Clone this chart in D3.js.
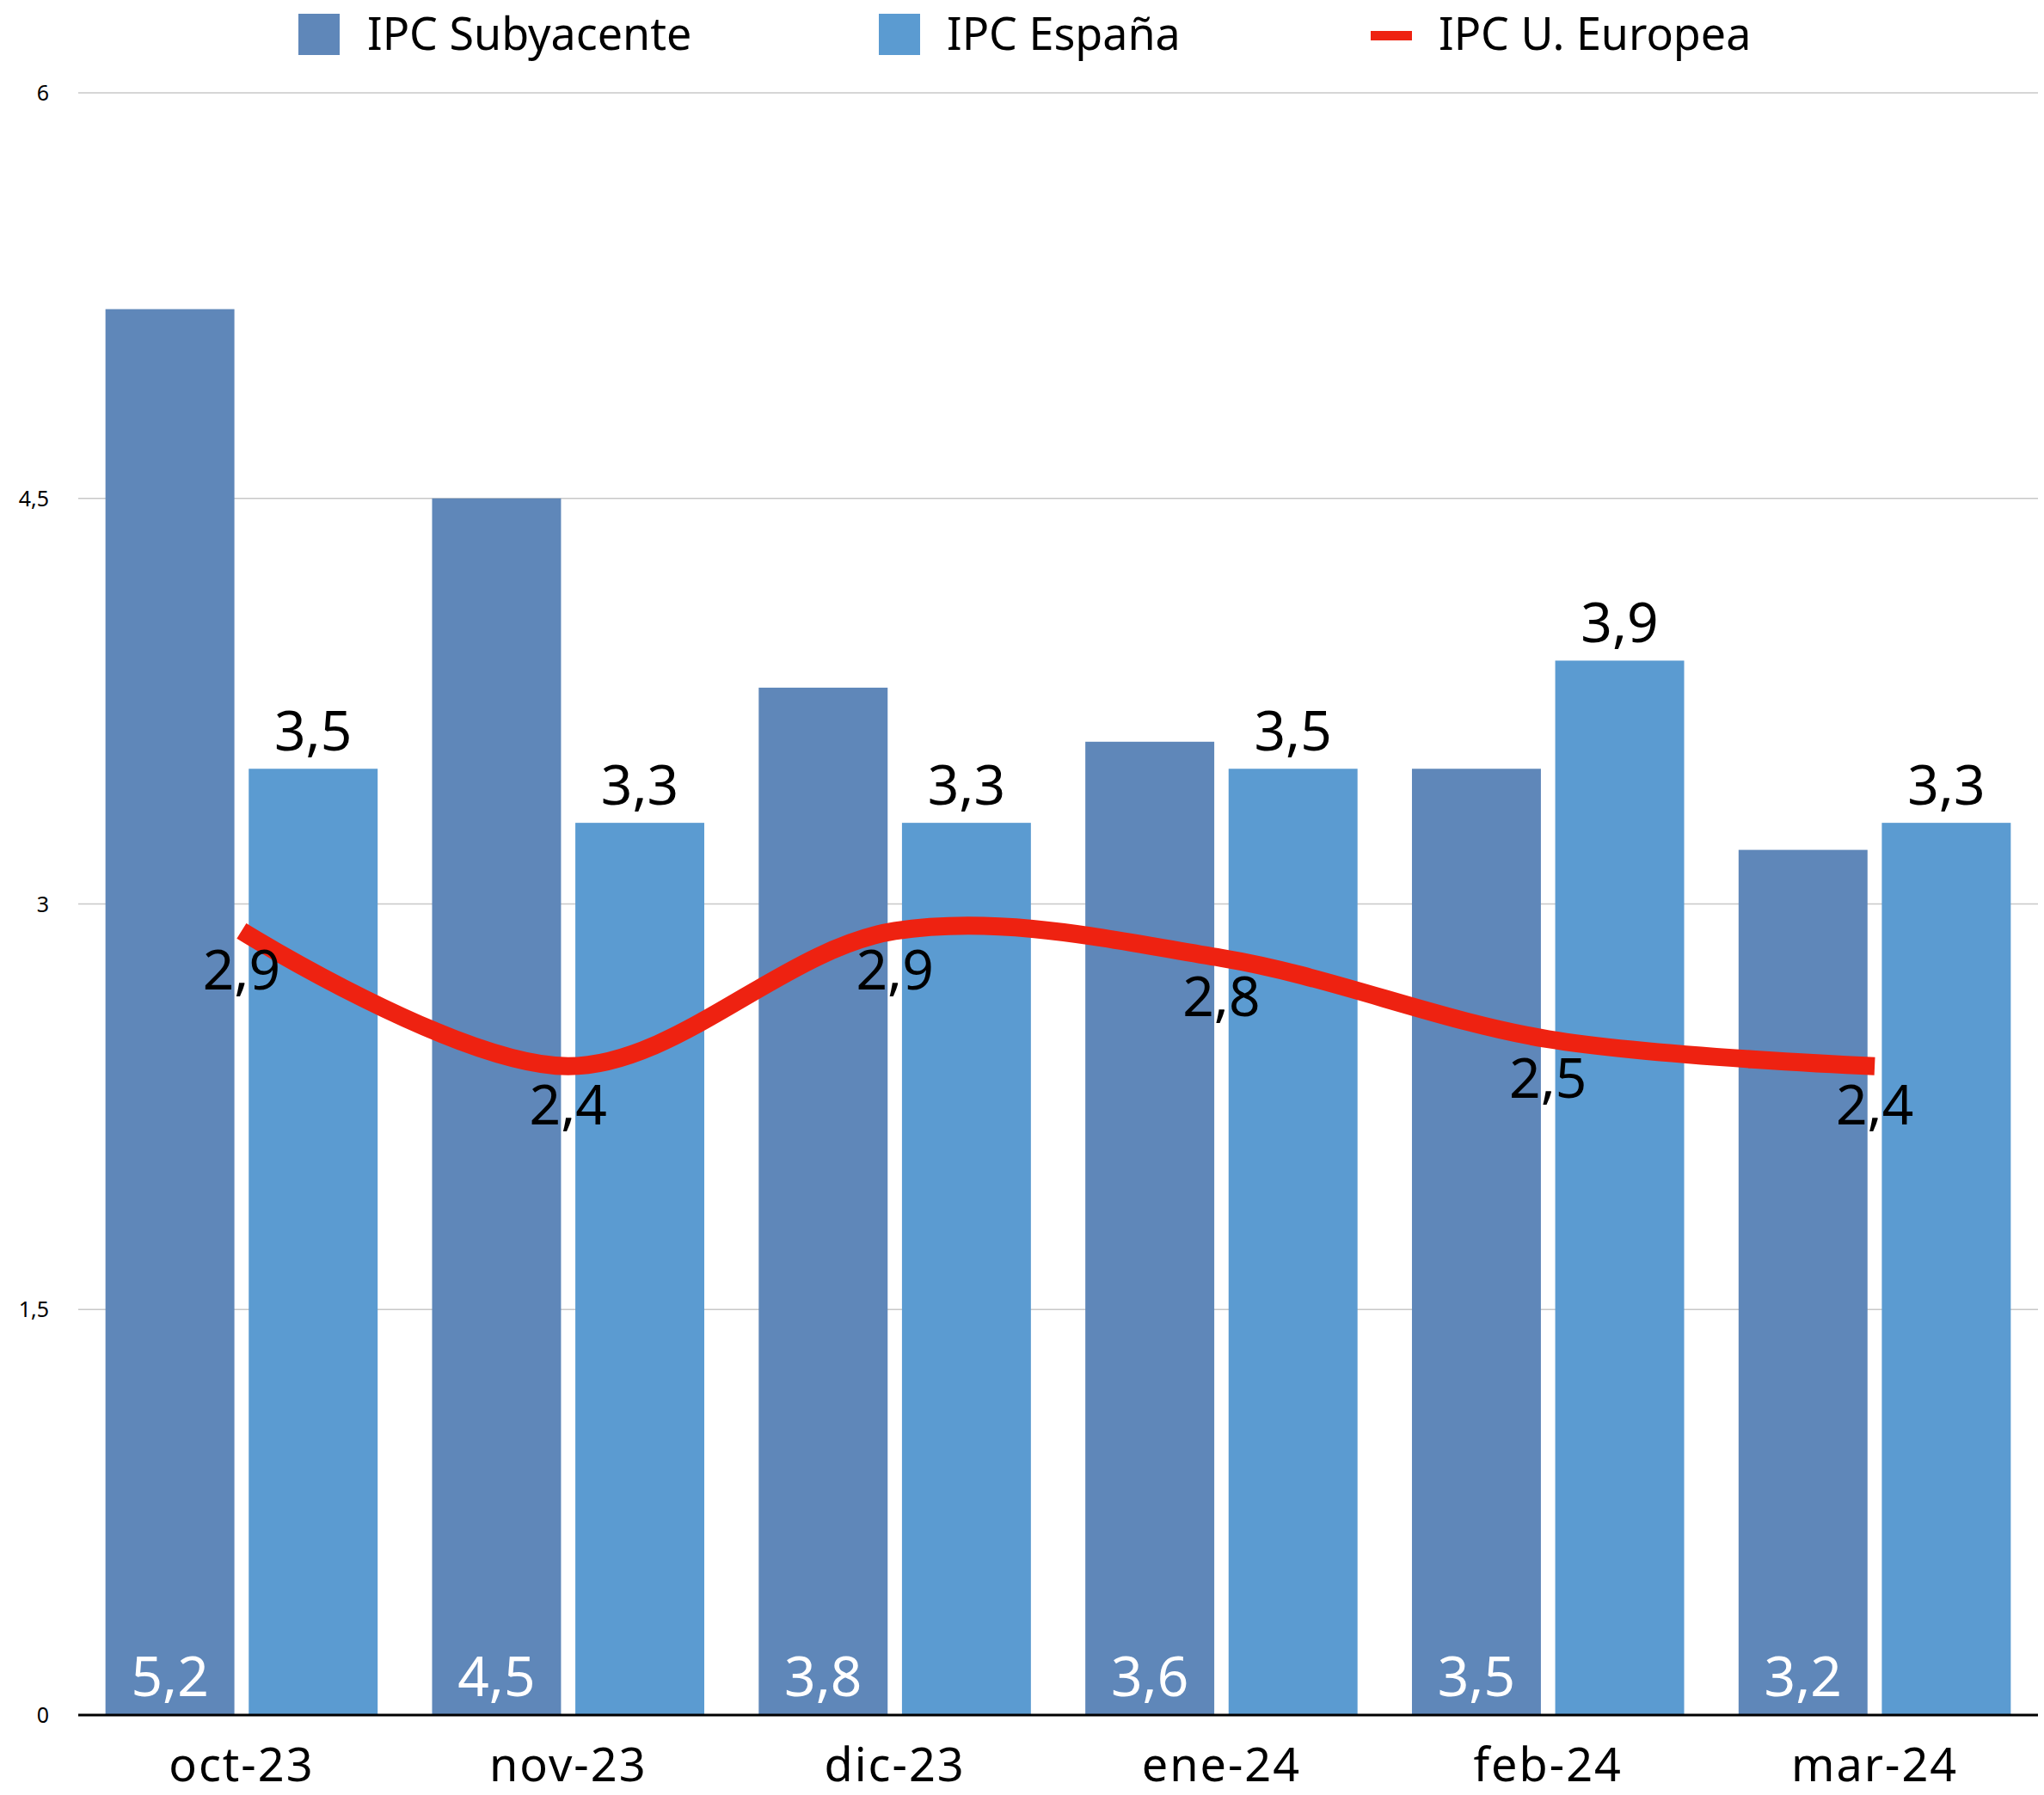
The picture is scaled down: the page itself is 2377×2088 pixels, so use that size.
<!DOCTYPE html>
<html>
<head>
<meta charset="utf-8">
<script src="https://cdn.jsdelivr.net/npm/d3@7"></script>
<style>
  body { margin: 0; background: #fff; }
  text { font-family: "Noto Sans", sans-serif; }
</style>
</head>
<body>
<svg id="chart"></svg>
<script>
var months = ["oct-23", "nov-23", "dic-23", "ene-24", "feb-24", "mar-24"];
var subyacente = [5.2, 4.5, 3.8, 3.6, 3.5, 3.2];
var espana = [3.5, 3.3, 3.3, 3.5, 3.9, 3.3];
var europa = [2.9, 2.4, 2.9, 2.8, 2.5, 2.4];
var yTicks = [0, 1.5, 3, 4.5, 6];
var seriesNames = ["IPC Subyacente", "IPC España", "IPC U. Europea"];

var width = 2377, height = 2088;
var plotLeft = 91, plotRight = 2370, plotTop = 108, plotBottom = 1995;
var colors = { sub: "#5f87b9", esp: "#5b9bd1", eu: "#ee2211" };
var fmt = d => String(d).replace(".", ",");

var svg = d3.select("#chart")
    .attr("width", width)
    .attr("height", height);

var x0 = d3.scaleBand().domain(months).range([plotLeft, plotRight]);
var x1 = d3.scaleBand().domain(["sub", "esp"])
    .range([0, x0.bandwidth()])
    .paddingInner(0.1)
    .paddingOuter(0.19);
var y = d3.scaleLinear().domain([0, 6]).range([plotBottom, plotTop]);

// gridlines
svg.append("g")
  .selectAll("line")
  .data(yTicks.filter(d => d > 0))
  .enter().append("line")
    .attr("x1", plotLeft).attr("x2", plotRight)
    .attr("y1", d => y(d)).attr("y2", d => y(d))
    .attr("stroke", "#c8c8c8")
    .attr("stroke-width", 1.5);

svg.append("g")
  .selectAll("text")
  .data(yTicks)
  .enter().append("text")
    .attr("x", 57)
    .attr("y", d => y(d))
    .attr("dy", "0.36em")
    .attr("text-anchor", "end")
    .attr("font-size", 25)
    .text(fmt);

var groups = svg.append("g")
  .selectAll("g")
  .data(months)
  .enter().append("g")
    .attr("transform", d => "translate(" + x0(d) + ",0)");

groups.append("rect")
    .attr("x", x1("sub"))
    .attr("width", x1.bandwidth())
    .attr("y", (d, i) => y(subyacente[i]))
    .attr("height", (d, i) => plotBottom - y(subyacente[i]))
    .attr("fill", colors.sub);

groups.append("rect")
    .attr("x", x1("esp"))
    .attr("width", x1.bandwidth())
    .attr("y", (d, i) => y(espana[i]))
    .attr("height", (d, i) => plotBottom - y(espana[i]))
    .attr("fill", colors.esp);

groups.append("text")
    .attr("x", x1("sub") + x1.bandwidth() / 2)
    .attr("y", plotBottom - 22)
    .attr("text-anchor", "middle")
    .attr("font-size", 64)
    .attr("fill", "#fff")
    .text((d, i) => fmt(subyacente[i]));

groups.append("text")
    .attr("x", x1("esp") + x1.bandwidth() / 2)
    .attr("y", (d, i) => y(espana[i]) - 21)
    .attr("text-anchor", "middle")
    .attr("font-size", 64)
    .attr("fill", "#000")
    .text((d, i) => fmt(espana[i]));

// axis baseline
svg.append("line")
    .attr("x1", plotLeft).attr("x2", plotRight)
    .attr("y1", plotBottom).attr("y2", plotBottom)
    .attr("stroke", "#000")
    .attr("stroke-width", 3);

svg.append("g")
  .selectAll("text")
  .data(months)
  .enter().append("text")
    .attr("x", d => x0(d) + x0.bandwidth() / 2)
    .attr("y", 2072)
    .attr("text-anchor", "middle")
    .attr("font-size", 54)
    .attr("letter-spacing", 2)
    .text(d => d);

// EU line
var line = d3.line()
    .x((d, i) => x0(months[i]) + x0.bandwidth() / 2)
    .y(d => y(d))
    .curve(d3.curveCatmullRom.alpha(0.5));

svg.append("path")
    .datum(europa)
    .attr("d", line)
    .attr("fill", "none")
    .attr("stroke", colors.eu)
    .attr("stroke-width", 21);

svg.append("g")
  .selectAll("text")
  .data(europa)
  .enter().append("text")
    .attr("x", (d, i) => x0(months[i]) + x0.bandwidth() / 2)
    .attr("y", d => y(d) + 68)
    .attr("text-anchor", "middle")
    .attr("font-size", 64)
    .text(fmt);

// legend
var legend = svg.append("g");
legend.append("rect").attr("x", 347).attr("y", 16).attr("width", 48).attr("height", 48).attr("fill", colors.sub);
legend.append("rect").attr("x", 1022).attr("y", 16).attr("width", 48).attr("height", 48).attr("fill", colors.esp);
legend.append("rect").attr("x", 1594).attr("y", 36).attr("width", 48).attr("height", 11).attr("fill", colors.eu);
legend.selectAll("text")
  .data(seriesNames)
  .enter().append("text")
    .attr("x", (d, i) => [427, 1101, 1673][i])
    .attr("y", 58)
    .attr("font-size", 52)
    .text(d => d);
</script>
</body>
</html>
